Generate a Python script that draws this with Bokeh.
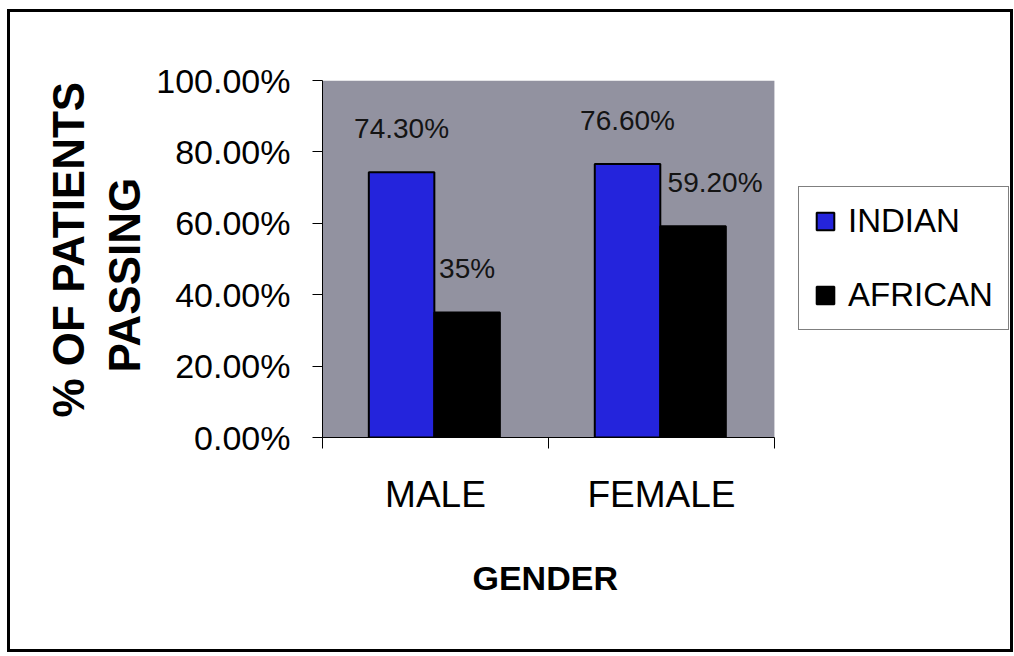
from bokeh.plotting import figure
from bokeh.models import (Range1d, FixedTicker, NumeralTickFormatter, ColumnDataSource,
                          Legend, LegendItem, Title, BoxAnnotation)
from bokeh.core.properties import value
from bokeh.embed import file_html
from bokeh.resources import INLINE

# ---- data ----
genders = ["MALE", "FEMALE"]
indian = [0.743, 0.766]
african = [0.35, 0.592]
indian_labels = ["74.30%", "76.60%"]
african_labels = ["35%", "59.20%"]
y_ticks = [0.0, 0.2, 0.4, 0.6, 0.8, 1.0]
series_names = ["INDIAN", "AFRICAN"]
x_title = "GENDER"
y_title = ["% OF PATIENTS", "PASSING"]

REG = "'Liberation Sans', Arial, sans-serif"
BLUE = "#2424dc"
GRAY = "#9292a0"

# plot area spans 448px for the categories; the frame continues to the right
# to hold the legend
n = len(genders)
x_end = n * (688 / 448)

p = figure(width=1006, height=643,
           x_range=Range1d(0, x_end), y_range=Range1d(0, 1),
           output_backend="svg", toolbar_location=None,
           min_border_left=312, min_border_right=0,
           min_border_top=68, min_border_bottom=218)
p.styles = {"border": "3px solid black", "position": "relative",
            "left": "7px", "top": "9px"}
p.background_fill_color = "white"
p.border_fill_color = "white"
p.outline_line_color = None
p.xgrid.visible = False
p.ygrid.visible = False

p.add_layout(BoxAnnotation(left=0, right=n, bottom=0, top=1, fill_color=GRAY,
                           fill_alpha=1, line_color=None, level="underlay"))

idx = list(range(n))
src_i = ColumnDataSource(dict(x=[i + 0.35 for i in idx], top=indian, lab=indian_labels))
src_a = ColumnDataSource(dict(x=[i + 0.64 for i in idx], top=african, lab=african_labels,
                              dx=[0, 22]))

r_i = p.vbar(x="x", top="top", width=0.29, source=src_i,
             fill_color=BLUE, line_color="black", line_width=2)
r_a = p.vbar(x="x", top="top", width=0.29, source=src_a,
             fill_color="black", line_color="black", line_width=2)

label_style = dict(text_align="center", text_baseline="middle", y_offset=-44,
                   text_font_size="28px", text_font=value("Liberation Sans"),
                   text_color="#141414")
p.text(x="x", y="top", text="lab", source=src_i, **label_style)
p.text(x="x", y="top", text="lab", source=src_a, x_offset="dx", **label_style)

# x axis
p.xaxis.bounds = (0, n)
p.xaxis.ticker = FixedTicker(ticks=[i + 0.5 for i in idx], minor_ticks=list(range(n + 1)))
p.xaxis.major_label_overrides = {i + 0.5: g for i, g in zip(idx, genders)}
p.xaxis.major_tick_out = 0
p.xaxis.major_tick_in = 0
p.xaxis.minor_tick_out = 11
p.xaxis.minor_tick_in = 0
p.xaxis.major_label_text_font = REG
p.xaxis.major_label_text_font_size = "37px"
p.xaxis.major_label_text_color = "black"
p.xaxis.major_label_standoff = 25
p.xaxis.axis_line_color = "black"

p.add_layout(Title(text=x_title, align="left", offset=150, text_font=REG,
                   text_font_style="bold", text_font_size="34px", standoff=79,
                   text_color="black"), "below")

# y axis
p.yaxis.ticker = FixedTicker(ticks=y_ticks, minor_ticks=[])
p.yaxis.formatter = NumeralTickFormatter(format="0.00%")
p.yaxis.major_tick_out = 10
p.yaxis.major_tick_in = 0
p.yaxis.major_label_text_font = REG
p.yaxis.major_label_text_font_size = "34px"
p.yaxis.major_label_text_color = "black"
p.yaxis.major_label_standoff = 22
p.yaxis.axis_line_color = "black"

# y titles (two lines)
t2 = Title(text=y_title[1], align="left", offset=65, text_font=REG,
           text_font_style="bold", text_font_size="44px", standoff=10,
           text_color="black")
t1 = Title(text=y_title[0], align="left", offset=20, text_font=REG,
           text_font_style="bold", text_font_size="44px", standoff=0,
           text_color="black")
p.add_layout(t2, "left")
p.add_layout(t1, "left")

legend = Legend(items=[LegendItem(label=series_names[0], renderers=[r_i]),
                       LegendItem(label=series_names[1], renderers=[r_a])],
                location=(476, 107), orientation="vertical",
                label_text_font=REG, label_text_font_size="33px",
                label_text_color="black",
                glyph_width=22, glyph_height=22, label_standoff=12,
                padding=15, spacing=36, margin=0,
                border_line_color="black", border_line_width=1.5,
                background_fill_color="white", background_fill_alpha=1)
p.add_layout(legend, "center")

open("out.html", "w").write(file_html(p, INLINE))
